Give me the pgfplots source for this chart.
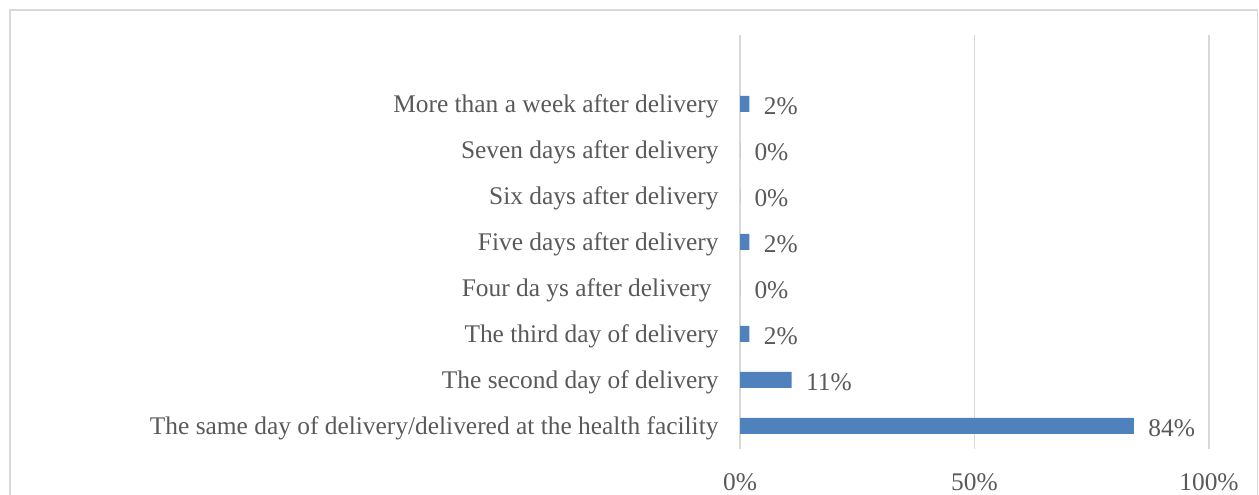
\documentclass[border=0pt]{standalone}
\usepackage{pgfplots}
\pgfplotsset{compat=1.18}
\usepackage{fontspec}
\setmainfont{Liberation Serif}
\definecolor{barblue}{HTML}{4F81BD}
\definecolor{txtgray}{HTML}{595959}
\definecolor{gridgray}{HTML}{D9D9D9}
\begin{document}
\begin{tikzpicture}[x=1bp,y=1bp]
\useasboundingbox (0,0) rectangle (1259,495);
\clip (0,0) rectangle (1259,495);
\draw[color=gridgray, line width=1.5bp] (10,-20) rectangle (1257.5,485);
\begin{axis}[
  at={(740bp,46bp)}, anchor=south west,
  scale only axis, width=469bp, height=414bp,
  xbar, bar width=16bp,
  xmin=0, xmax=100, ymin=-0.5, ymax=8.5,
  xtick={0,50,100},
  xticklabel={\pgfmathprintnumber{\tick}\%},
  ytick={0,...,7},
  yticklabels={The same day of delivery/delivered at the health facility,
    The second day of delivery, The third day of delivery,
    Four da ys after delivery\kern7bp, Five days after delivery,
    Six days after delivery, Seven days after delivery,
    More than a week after delivery},
  /pgf/number format/assume math mode=true,
  axis line style={draw=none},
  major tick length=0pt,
  xmajorgrids, grid style={gridgray, line width=1.2bp},
  tick label style={font=\fontsize{25.5}{30}\selectfont, text=txtgray},
  yticklabel style={anchor=east, xshift=-18bp, yshift=-2bp},
  xticklabel style={anchor=center, yshift=-33bp},
  nodes near coords={\pgfmathprintnumber{\pgfplotspointmeta}\%},
  point meta=x,
  nodes near coords style={font=\fontsize{25.5}{30}\selectfont, text=txtgray, anchor=west, xshift=11bp, yshift=-2bp},
  clip=false,
]
\addplot[fill=barblue, draw=none] coordinates {
  (84,0) (11,1) (2,2) (0,3) (2,4) (0,5) (0,6) (2,7)
};
\end{axis}
\end{tikzpicture}
\end{document}
